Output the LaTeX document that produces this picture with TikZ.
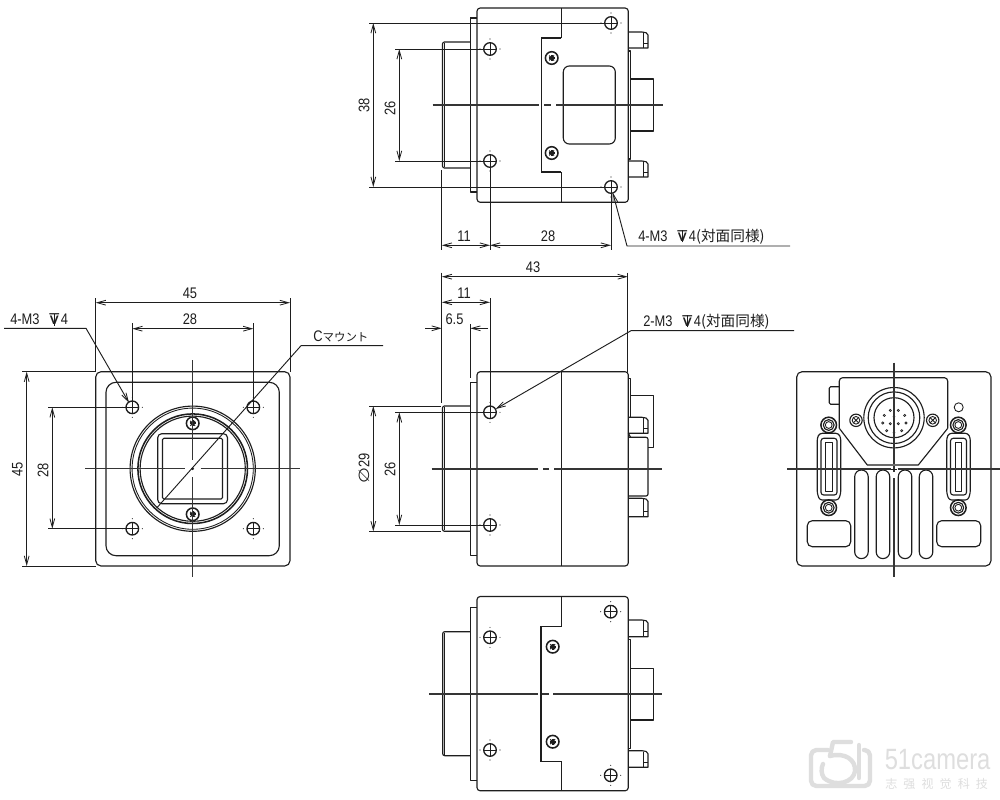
\documentclass[tikz,border=0pt]{standalone}
\usepackage{fontspec}
\usetikzlibrary{arrows.meta}
\setmainfont{Liberation Sans}
\newfontfamily\lab[FakeStretch=0.84]{Liberation Sans}
\newfontfamily\jp{Noto Sans CJK JP}
\newfontfamily\sym[FakeStretch=1.25]{DejaVu Sans}
\newfontfamily\wmfont[FakeStretch=0.81]{Liberation Sans}
\newcommand{\Dep}{\makebox[8pt][c]{\makebox[0pt]{\sym\fontsize{11}{12}\selectfont ⊽}\makebox[0pt]{\raisebox{-0.8pt}{\rule{0.55pt}{9pt}}}}}
\definecolor{ink}{HTML}{1E1E1E}
\definecolor{wm}{HTML}{DEDEDE}
\tikzset{
  part/.style={draw=ink,line width=0.85pt,line join=round},
  thin part/.style={draw=ink,line width=0.65pt},
  heavy/.style={draw=ink,line width=1.15pt,line join=miter},
  axisline/.style={draw=ink!90,line width=0.8pt},
  extline/.style={draw=ink,line width=0.75pt},
  dimline/.style={draw=ink,line width=0.7pt,{Straight Barb[length=6.5pt,width=3.6pt,line width=0.6pt]}-{Straight Barb[length=6.5pt,width=3.6pt,line width=0.6pt]}},
  leader/.style={draw=ink,line width=0.7pt,-{Straight Barb[length=6.5pt,width=3.6pt,line width=0.6pt]}},
  plainleader/.style={draw=ink,line width=0.7pt},
  dimtext/.style={font=\lab\fontsize{11.5}{12}\selectfont,text=ink,inner sep=0pt},
  vdimtext/.style={dimtext,rotate=90},
  notetext/.style={dimtext,anchor=west},
  wmline/.style={draw=wm,line width=3.3pt,line cap=round,line join=round}
}
\newcommand{\Hole}[2]{%
  \draw[part,line width=1pt] (#1,#2) circle[radius=6.3];
  \draw[thin part] (#1-6.3,#2) -- (#1+6.3,#2) (#1,#2-6.3) -- (#1,#2+6.3);
  \foreach \ddx/\ddy in {10/0,-10/0,0/10,0/-10}{\fill[ink] (#1+\ddx,#2+\ddy) circle[radius=0.55];}
}
\newcommand{\Scrw}[2]{%
  \draw[heavy] (#1,#2) circle[radius=6.3];
  \draw[ink,line width=1.5pt] (#1-3,#2) -- (#1+3,#2) (#1,#2-3) -- (#1,#2+3);
  \draw[ink,line width=0.8pt] (#1-2.4,#2-2.4) -- (#1+2.4,#2+2.4) (#1-2.4,#2+2.4) -- (#1+2.4,#2-2.4);
}
\newcommand{\Pinn}[2]{%
  \draw[part] (628,#1) -- (642,#1) .. controls (645,#1) and (648,#1+1) .. (648,#1+3) -- (648,#2) -- (628,#2);
  \draw[thin part] (643,#1+1) -- (643,#2) (644,#2-5) -- (648,#2-5);
}
\newcommand{\SideBody}[1]{%
  \draw[part,rounded corners=2.4pt] (477,#1) rectangle (628.3,#1+194.3);
}
\newcommand{\Jack}[2]{%
  \draw[heavy] (#1,#2) circle[radius=7.8];
  \draw[part] (#1,#2) circle[radius=5.4];
  \draw[thin part] (#1,#2) circle[radius=3.4];
}
\newcommand{\Shell}[1]{%
  \draw[part,rounded corners=2pt] (#1-9.5,433.3) -- (#1+9.5,433.3) -- (#1+11.8,438) -- (#1+11.8,493) -- (#1+9.5,500) -- (#1-9.5,500) -- (#1-11.8,493) -- (#1-11.8,438) -- cycle;
  \draw[part,rounded corners=2pt] (#1-8,438.3) rectangle (#1+8,495);
  \draw[part] (#1-3.3,442.7) rectangle (#1+3.3,491.7);
}
\begin{document}
\begin{tikzpicture}[x=0.75pt,y=-0.75pt]
\useasboundingbox (0,0) rectangle (1000,800);
\fill[white] (0,0) rectangle (1000,800);

%===== TOP VIEW =====
\SideBody{8}
\draw[part] (470.3,18) -- (477,18) (470.3,18) -- (470.3,192) -- (477,192);
\draw[part,rounded corners=1.5pt] (470.3,42) -- (442.5,42) -- (442.5,168) -- (470.3,168);
\draw[thin part] (444.6,43) -- (444.6,167);
\draw[part] (561.3,8) -- (561.3,38);
\draw[heavy] (561.3,38) -- (541.3,38) -- (541.3,172) -- (561.3,172);
\draw[part] (561.3,172) -- (561.3,202);
\Scrw{551.7}{58}
\Scrw{551.7}{153}
\Hole{490}{49}
\Hole{490}{161}
\Hole{611}{23}
\Hole{611}{187}
\draw[part,rounded corners=4.5pt] (563.3,66) rectangle (615.3,144);
\draw[part] (628.3,51) rectangle (630.6,159);
\draw[part] (630.6,79) -- (653.7,79) -- (653.7,131) -- (630.6,131);
\Pinn{32}{48}
\Pinn{161}{177}
\draw[axisline] (432.7,105) -- (539,105) (544,105) -- (551,105) (556,105) -- (663,105);
% dimensions top
\draw[extline] (369,23) -- (604.7,23) (369,187) -- (604.7,187);
\draw[extline] (395,49) -- (483.7,49) (395,161) -- (483.7,161);
\draw[dimline] (373.3,23) -- (373.3,187);
\draw[dimline] (399.3,49) -- (399.3,161);
\node[vdimtext] (t38) at (364,105) {38};
\node[vdimtext] (t26a) at (390,108) {26};
\draw[extline] (441.8,170) -- (441.8,250) (490,167.3) -- (490,250) (611,193.3) -- (611,250);
\draw[dimline] (441.8,245.3) -- (490,245.3);
\draw[dimline] (490,245.3) -- (611,245.3);
\node[dimtext] (t11a) at (464,236.5) {11};
\node[dimtext] (t28a) at (548,236.5) {28};
\coordinate (tipTop) at (612.7,192.5);
\coordinate (kneeTop) at (627,246);
\coordinate (endTop) at (790,246);
\draw[leader] (endTop) -- (kneeTop) -- (tipTop);
\node[notetext] (noteTop) at (638,236.5) {4-M3\hspace{7pt}\Dep\hspace{1pt}4{\jp\fontsize{11}{12}\selectfont (対面同様)}};

%===== FRONT VIEW =====
\draw[part,rounded corners=4pt] (95.7,371.7) rectangle (290,566);
\draw[part,rounded corners=7.5pt] (106,382.3) rectangle (279.3,555.7);
\Hole{132.3}{407.3}
\Hole{253.3}{407.3}
\Hole{132.3}{528.7}
\Hole{253.3}{528.7}
\draw[part] (192.7,468.7) circle[radius=62.6];
\draw[thin part] (192.7,468.7) circle[radius=60.6];
\draw[heavy] (192.7,468.7) circle[radius=54.8];
\draw[part] (192.7,468.7) circle[radius=52.6];
\draw[part,rounded corners=3pt] (157.7,433.7) rectangle (227.5,503.7);
\draw[part,rounded corners=1pt] (162.5,438.3) rectangle (222.5,499);
\fill[white] (192.7,423.3) circle[radius=7];
\fill[white] (192.7,514.3) circle[radius=7];
\Scrw{192.7}{423.3}
\Scrw{192.7}{514.3}
\draw[axisline] (85,468.7) -- (184.5,468.7) (200.5,468.7) -- (300,468.7);
\draw[axisline] (192.7,360) -- (192.7,460) (192.7,477) -- (192.7,577);
\fill[ink] (192.7,468.7) circle[radius=1.5];
% dimensions front
\draw[extline] (95.7,298) -- (95.7,371.7) (290,298) -- (290,371.7);
\draw[extline] (132.3,323) -- (132.3,401) (253.3,323) -- (253.3,401);
\draw[dimline] (95.7,302.7) -- (290,302.7);
\draw[dimline] (132.3,328.7) -- (253.3,328.7);
\node[dimtext] (t45a) at (190,293.5) {45};
\node[dimtext] (t28b) at (190,319.5) {28};
\draw[extline] (22,371.7) -- (95.7,371.7) (22,566) -- (95.7,566);
\draw[extline] (48,407.3) -- (126,407.3) (48,528.7) -- (126,528.7);
\draw[dimline] (26.7,371.7) -- (26.7,566);
\draw[dimline] (52.3,407.3) -- (52.3,528.7);
\node[vdimtext] (t45b) at (17.5,469) {45};
\node[vdimtext] (t28c) at (43,470) {28};
\coordinate (tipFront) at (129,402.7);
\coordinate (kneeFront) at (86,328.3);
\coordinate (endFront) at (4,328.3);
\draw[leader] (endFront) -- (kneeFront) -- (tipFront);
\node[notetext] (noteFront) at (10,319.5) {4-M3\hspace{7pt}\Dep\hspace{1pt}4};
\coordinate (endMount) at (383,345.7);
\coordinate (kneeMount) at (301,345.7);
\coordinate (lowMount) at (156.7,508);
\draw[plainleader] (endMount) -- (kneeMount) -- (lowMount);
\node[notetext] (noteMount) at (313,336.5) {C{\jp\fontsize{8.6}{12}\selectfont マウント}};

%===== SIDE VIEW =====
\SideBody{371.7}
\draw[part] (561.3,371.7) -- (561.3,566);
\draw[part] (470.3,382.3) -- (477,382.3) (470.3,382.3) -- (470.3,555.7) -- (477,555.7);
\draw[part,rounded corners=1.5pt] (470.3,406) -- (442.5,406) -- (442.5,531.3) -- (470.3,531.3);
\draw[thin part] (444.6,407) -- (444.6,530.3);
\Hole{490}{412.3}
\Hole{490}{525}
\draw[part] (628.3,378.3) -- (630.6,378.3) -- (630.6,417.3);
\draw[part] (630.6,395.3) -- (653.7,395.3) -- (653.7,447.3) -- (648,447.3);
\Pinn{417.3}{433.3}
\draw[part,rounded corners=1.5pt] (628.3,437.3) -- (648,437.3) -- (648,496) -- (628.3,496);
\draw[part] (628.3,433.3) -- (630.6,437.3);
\Pinn{498.3}{516.7}
\draw[axisline] (431.7,469) -- (537.7,469) (543,469) -- (549,469) (554,469) -- (661.7,469);
% dimensions side
\draw[extline] (441.8,272.7) -- (441.8,403) (627.8,272.7) -- (627.8,371.7);
\draw[dimline] (441.8,276.7) -- (627.8,276.7);
\node[dimtext] (t43) at (533,267) {43};
\draw[extline] (490,298) -- (490,406);
\draw[dimline] (441.8,302.3) -- (490,302.3);
\node[dimtext] (t11b) at (464,293.5) {11};
\draw[extline] (470.3,324) -- (470.3,378.3);
\coordinate (a65) at (425,328.3);
\coordinate (b65) at (441.8,328.3);
\coordinate (c65) at (488,328.3);
\coordinate (d65) at (470.3,328.3);
\draw[leader] (a65) -- (b65);
\draw[leader] (c65) -- (d65);
\node[dimtext] (t65) at (454.5,319.5) {6.5};
\draw[extline] (369,406) -- (441,406) (369,531.3) -- (441,531.3);
\draw[dimline] (373.3,406) -- (373.3,531.3);
\node[vdimtext] (t29) at (364,468.5) {{\sym\fontsize{11}{12}\selectfont ∅}29};
\draw[extline] (395,412.3) -- (484,412.3) (395,525) -- (484,525);
\draw[dimline] (399.3,412.3) -- (399.3,525);
\node[vdimtext] (t26b) at (390,469.5) {26};
\coordinate (tipSide) at (495.7,409);
\coordinate (kneeSide) at (631,330.7);
\coordinate (endSide) at (794,330.7);
\draw[leader] (endSide) -- (kneeSide) -- (tipSide);
\node[notetext] (noteSide) at (643,321.5) {2-M3\hspace{7pt}\Dep\hspace{1pt}4{\jp\fontsize{11}{12}\selectfont (対面同様)}};

%===== REAR VIEW =====
\draw[part,rounded corners=4pt] (796.7,371.7) rectangle (991,566);
\draw[part,rounded corners=2.5pt] (839.3,428.3) -- (839.3,377.7) -- (947.7,377.7) -- (947.7,428.3);
\draw[part] (839.3,428.3) -- (867.3,465) -- (918.3,465) -- (947.7,428.3);
\draw[part] (894,417.7) circle[radius=30.2];
\draw[part] (894,417.7) circle[radius=25.8];
\draw[part] (894,417.7) circle[radius=20];
\foreach \pdx/\pdy in {-3.7/-7.3,4.3/-7.3,-9.7/-2.3,10.7/-2.3,-11.3/5.3,-3.7/6,4.3/6,12/5.3,-7.3/13,7.7/13}{
  \draw[thin part,line width=0.5pt] (894+\pdx,417.7+\pdy) circle[radius=1.1];}
\fill[ink] (894,416.7) circle[radius=1.4];
\fill[ink] (894,432.7) circle[radius=1.4];
\foreach \scx in {856,932.7}{
  \draw[part] (\scx,420.3) circle[radius=6.2];
  \draw[thin part] (\scx,420.3) circle[radius=3.8];
  \draw[thin part] (\scx-2.6,417.7) -- (\scx+2.6,422.9) (\scx-2.6,422.9) -- (\scx+2.6,417.7);
}
\draw[part,rounded corners=1pt] (839.3,386.7) -- (829.3,386.7) -- (829.3,404.3) -- (839.3,404.3);
\draw[thin part] (958.7,407.3) circle[radius=4.5];
\Jack{828.7}{425}
\Jack{828.7}{507.7}
\Jack{958.3}{425}
\Jack{958.3}{507.7}
\Shell{829}
\Shell{958.5}
\foreach \vx in {854.7,876.2,898.3,919.3}{
  \draw[part,rounded corners=5pt] (\vx,470) rectangle (\vx+13.5,558.6);
}
\draw[part,rounded corners=3.7pt] (807.3,520.7) rectangle (850.7,546.7);
\draw[part,rounded corners=3.7pt] (936.7,520.7) rectangle (980.7,546.7);
\draw[axisline] (787,469) -- (890.5,469) (897.5,469) -- (1000,469);
\draw[axisline] (894,362.7) -- (894,464) (894,466) -- (894,472) (894,478) -- (894,577);
\draw[thin part] (891,469) -- (897,469);

%===== BOTTOM VIEW =====
\SideBody{596.5}
\draw[part] (470.3,607.3) -- (477,607.3) (470.3,607.3) -- (470.3,780.7) -- (477,780.7);
\draw[part,rounded corners=1.5pt] (470.3,631.7) -- (442.7,631.7) -- (442.7,755.7) -- (470.3,755.7);
\draw[thin part] (444.8,632.7) -- (444.8,754.7);
\draw[part] (561.5,596.5) -- (561.5,626.7);
\draw[heavy] (561.5,626.7) -- (541,626.7) -- (541,761.3) -- (561.5,761.3);
\draw[part] (561.5,761.3) -- (561.5,790.8);
\Scrw{552.7}{646.7}
\Scrw{552.7}{741.7}
\Hole{490}{637.3}
\Hole{490}{750}
\Hole{610.7}{611.7}
\Hole{610.7}{775.3}
\draw[part] (628.3,639.3) rectangle (630.6,748.3);
\draw[part] (630.6,668.3) -- (653.5,668.3) -- (653.5,720) -- (630.6,720);
\Pinn{620}{636.7}
\Pinn{750.7}{767.3}
\draw[axisline] (429,694) -- (537.7,694) (542,694) -- (548.5,694) (553,694) -- (661.7,694);

%===== WATERMARK =====
\draw[wmline,rounded corners=4pt] (828,750) -- (811,750) -- (811,786) -- (870,786) -- (870,750) -- (864,750);
\draw[wmline] (851,742) -- (833,742) -- (830,756);
\draw[wmline] (830,756) .. controls (845,752) and (856,760) .. (855,771) .. controls (854,782) and (836,788) .. (824,778) .. controls (821,774) and (821,768) .. (823,764);
\draw[wmline] (859,745) -- (859,778);
\node[font=\wmfont\fontsize{22}{24}\selectfont,text=wm,inner sep=0pt,anchor=west] (wmName) at (884.5,760) {51camera};
\node[font=\jp\fontsize{9}{10}\selectfont,text=wm,inner sep=0pt,anchor=west] (wmSub) at (885,783.5) {志\hspace{4.6pt}强\hspace{4.6pt}视\hspace{4.6pt}觉\hspace{4.6pt}科\hspace{4.6pt}技};
\end{tikzpicture}
\end{document}
